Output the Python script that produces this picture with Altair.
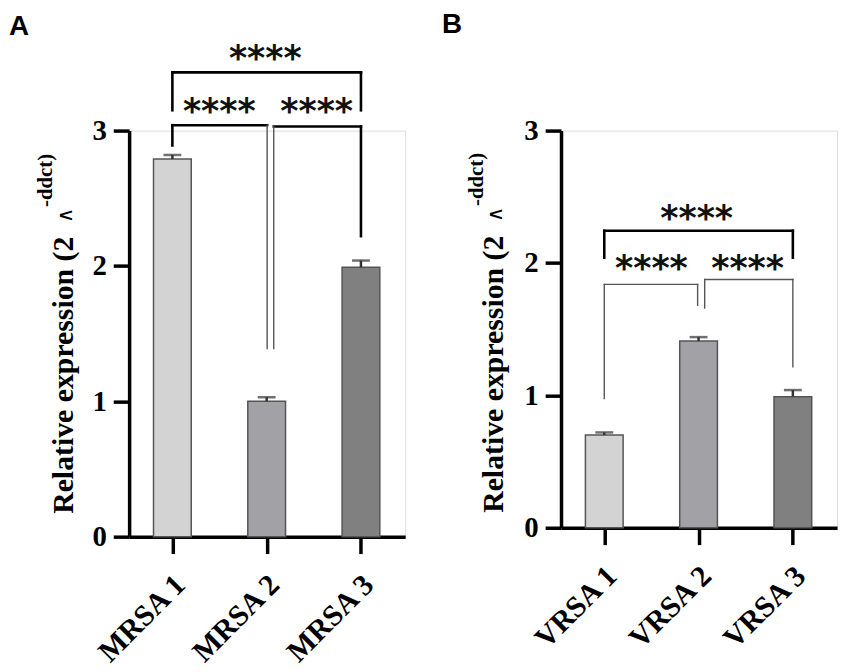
import altair as alt
import pandas as pd

# ---- data ----
groups_A = ["MRSA 1", "MRSA 2", "MRSA 3"]
means_A = [2.79, 1.00, 1.99]
sem_A = [0.03, 0.03, 0.05]

groups_B = ["VRSA 1", "VRSA 2", "VRSA 3"]
means_B = [0.70, 1.41, 0.99]
sem_B = [0.02, 0.03, 0.05]

bar_colors = ["#d3d3d3", "#a1a1a6", "#808080"]
y_ticks = [0, 1, 2, 3]
sig_label = "****"
y_title = "Relative expression (2"
y_title_caret = "∧"
y_title_sup = "-ddct)"
panel_letters = ["A", "B"]

# ---- annotation geometry (bracket: x-left, x-right, bar height, left leg end, right leg end) ----
brackets_A = {
    "top": (1, 3, 3.43, 3.15, 3.15),
    "lowL": (1, 2.005, 3.04, 2.89, 1.39),
    "lowR": (2.075, 3, 3.03, 1.39, 2.22),
}
stars_A = [(1.985, 3.53), (1.497, 3.14), (2.53, 3.14)]

brackets_B = {
    "top": (1, 3, 2.243, 2.04, 2.04),
    "lowL": (1, 1.99, 1.838, 0.975, 1.68),
    "lowR": (2.065, 3, 1.875, 1.66, 1.215),
}
stars_B = [(1.98, 2.33), (1.50, 1.955), (2.52, 1.955)]

SERIF = "Liberation Serif"
SANS = "Liberation Sans"


def legs(b):
    x1, x2, y, yl, yr = b
    left = dict(x=x1, x2=x1, y=yl, y2=y)
    horiz = dict(x=x1, x2=x2, y=y, y2=y)
    right = dict(x=x2, x2=x2, y=y, y2=yr)
    return left, horiz, right


def text_layer(txt, pos, font, size, weight, angle=0, baseline="alphabetic"):
    d = pd.DataFrame({"t": [txt]})
    kw = dict(font=font, fontSize=size, fontWeight=weight, align="left", baseline=baseline, color="black")
    if angle:
        kw["angle"] = angle
    return alt.Chart(d).mark_text(**kw).encode(x=alt.value(pos[0]), y=alt.value(pos[1]), text="t:N")


def panel(groups, means, sems, height, brackets, thin_parts, stars, letter, letter_pos, title_pos):
    df = pd.DataFrame({"group": groups, "idx": [1, 2, 3], "mean": means, "sem": sems})
    xs = alt.Scale(domain=[0.594, 3.416], nice=False, zero=False)
    ys = alt.Scale(domain=[0, 3], nice=False, zero=True)
    label_expr = "[" + ",".join("'%s'" % g for g in groups) + "][datum.value - 1]"

    xaxis = alt.Axis(values=[1, 2, 3], labelExpr=label_expr, title=None, grid=False,
                     domainColor="black", domainWidth=3.5, tickColor="black", tickWidth=3.5,
                     tickSize=17, labelAngle=315, labelAlign="right", labelBaseline="top",
                     labelFont=SERIF, labelFontWeight="bold", labelFontSize=30,
                     labelColor="black", labelPadding=16, labelOffset=-3, labelOverlap=False)
    yaxis = alt.Axis(values=y_ticks, format="d", title=None, grid=False,
                     domainColor="black", domainWidth=3.5, tickColor="black", tickWidth=3.5,
                     tickSize=16, labelFont=SERIF, labelFontWeight="bold", labelFontSize=29,
                     labelColor="black", labelPadding=7)

    base = alt.Chart(df)
    bars = base.mark_bar(size=38, orient="vertical", stroke="#555555", strokeWidth=1.5).encode(
        x=alt.X("idx:Q", scale=xs, axis=xaxis, title=None),
        y=alt.Y("mean:Q", scale=ys, axis=yaxis, title=None),
        color=alt.Color("group:N", scale=alt.Scale(domain=groups, range=bar_colors), legend=None),
    )
    errd = base.transform_calculate(upper="datum.mean + datum.sem")
    err = errd.mark_rule(color="#333333", strokeWidth=2.5).encode(
        x=alt.X("idx:Q", scale=xs, title=None),
        y=alt.Y("mean:Q", scale=ys, title=None),
        y2="upper:Q",
    )
    cap = errd.mark_tick(orient="horizontal", size=18, thickness=2.5, color="#333333").encode(
        x=alt.X("idx:Q", scale=xs, title=None),
        y=alt.Y("upper:Q", scale=ys, title=None),
    )

    thick_rows, thin_rows = [], []
    for name, b in brackets.items():
        for k, seg in enumerate(legs(b)):
            (thin_rows if (name, k) in thin_parts else thick_rows).append(seg)

    def seg_layer(rows, color, width):
        return alt.Chart(pd.DataFrame(rows)).mark_rule(color=color, strokeWidth=width, strokeCap="square").encode(
            x=alt.X("x:Q", scale=xs, title=None), x2="x2:Q",
            y=alt.Y("y:Q", scale=ys, title=None), y2="y2:Q",
        )

    layers = [bars, err, cap, seg_layer(thick_rows, "black", 2.6)]
    if thin_rows:
        layers.append(seg_layer(thin_rows, "#555555", 1.4))

    sdf = pd.DataFrame({"x": [s[0] for s in stars], "y": [s[1] for s in stars], "t": [sig_label] * len(stars)})
    star_layer = alt.Chart(sdf).mark_text(font="DejaVu Sans", fontWeight="bold", fontSize=35,
                                          baseline="middle", align="center", color="#111111").encode(
        x=alt.X("x:Q", scale=xs, title=None), y=alt.Y("y:Q", scale=ys, title=None), text="t:N")
    layers.append(star_layer)

    tx, ty = title_pos
    layers += [
        text_layer(y_title, (tx, ty), SERIF, 30, "bold", angle=270),
        text_layer(y_title_caret, (tx - 1, ty - 293), "DejaVu Sans", 21, "normal", angle=270),
        text_layer(y_title_sup, (tx - 21, ty - 309), SERIF, 21, "bold", angle=270),
        text_layer(letter, letter_pos, SANS, 28, "bold"),
    ]

    return alt.layer(*layers).properties(width=278, height=height)


pA = panel(groups_A, means_A, sem_A, 409, brackets_A,
           {("lowL", 2), ("lowR", 0)}, stars_A, panel_letters[0],
           (-121, -96), (-57, 386))
pB = panel(groups_B, means_B, sem_B, 400, brackets_B,
           {("lowL", 0), ("lowL", 1), ("lowL", 2), ("lowR", 0), ("lowR", 1), ("lowR", 2)},
           stars_B, panel_letters[1],
           (-120, -98), (-58, 385))

chart = alt.hconcat(pA, pB, spacing=35).properties(
    padding={"left": 0, "top": 0, "right": 5, "bottom": 25}
).configure_view(stroke=None).configure(background="white")

chart.save("out.html", embed_options={"renderer": "svg", "actions": False})
